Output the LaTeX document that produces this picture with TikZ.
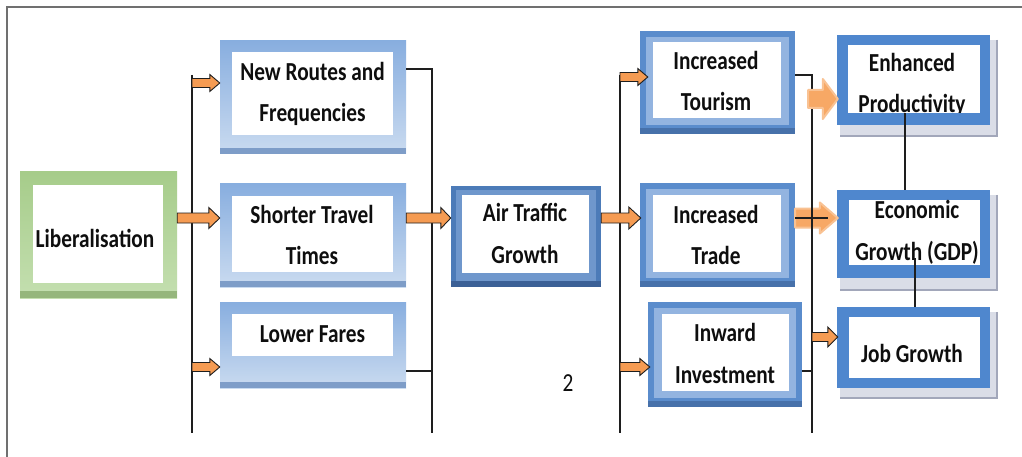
\documentclass[tikz,border=0pt]{standalone}
\usepackage{fontspec}
\setmainfont{Carlito}
\usetikzlibrary{calc,fit}

\definecolor{lbTop}{HTML}{88AEDF}
\definecolor{lbBot}{HTML}{CADBF0}
\definecolor{lbBand}{HTML}{7E9DC8}
\definecolor{airC}{HTML}{4C7BB8}
\definecolor{airIn}{HTML}{6F97CC}
\definecolor{airBand}{HTML}{3B6096}
\definecolor{midC}{HTML}{5A8CCC}
\definecolor{midIn}{HTML}{93B4E0}
\definecolor{midBand}{HTML}{4771AA}
\definecolor{rbC}{HTML}{4F87CE}
\definecolor{shadeC}{HTML}{DADDE7}
\definecolor{shadeEdge}{HTML}{A2A7BA}
\definecolor{grTop}{HTML}{A6CC8A}
\definecolor{grBot}{HTML}{C4DFB0}
\definecolor{grBand}{HTML}{95B67C}
\definecolor{orangeC}{HTML}{F59B52}
\definecolor{orangeSoft}{HTML}{F7A865}
\definecolor{lineC}{HTML}{1E1E1E}
\definecolor{frameC}{HTML}{707070}
\definecolor{textC}{HTML}{0E0E0E}

% two-line captions, slightly stretched vertically
\newcommand\lbl[1]{\scalebox{1}[1.22]{\begin{tabular}{@{}c@{}}#1\end{tabular}}}
% horizontal block arrow: style, tail, tip, half body, half head, head length
\newcommand\blockarrow[6]{%
  \path[#1] ($(#2)+(0,#4)$) -- ($(#3)+(-#6,#4)$) -- ($(#3)+(-#6,#5)$) -- (#3)
    -- ($(#3)+(-#6,-#5)$) -- ($(#3)+(-#6,-#4)$) -- ($(#2)+(0,-#4)$) -- cycle;}

\begin{document}
\begin{tikzpicture}[x=1pt,y=-1pt,
  font=\fontsize{21.3}{34.4}\selectfont\bfseries,
  every node/.style={inner sep=0pt,text=textC},
  boxfit/.style={inner sep=0pt,draw=none},
  lightframe/.style={boxfit,top color=lbTop,bottom color=lbBot},
  airframe/.style={boxfit,fill=airC},
  midframe/.style={boxfit,fill=midC},
  rightframe/.style={boxfit,fill=rbC},
  greenframe/.style={boxfit,top color=grTop,bottom color=grBot},
  wire/.style={draw=lineC,line width=1.4pt},
  smallarrow/.style={fill=orangeC,draw=lineC,line width=0.9pt,line join=miter},
  bigarrow/.style={fill=orangeSoft,draw=orangeSoft!70!white,line width=2pt,line join=round}
]
\useasboundingbox (0,0) rectangle (1022,457);
\fill[white] (0,0) rectangle (1022,457);

% page frame
\draw[frameC,line width=1.8pt] (7,457) -- (7,7) -- (1022,7);

% ---------- left column ----------
\node[greenframe,fit={(20,172) (177,298)}] (lib) {};
\fill[grBand] ([yshift=7pt]lib.south west) rectangle (lib.south east);
\fill[white] (33,185) rectangle (163,283);
\node at (95,239.6) {\lbl{Liberalisation}};

\node[lightframe,fit={(220,41) (406,154)}] (routes) {};
\fill[lbBand] ([yshift=6pt]routes.south west) rectangle (routes.south east);
\fill[white] (232,52) rectangle (393,135);
\node at (312.5,92.6) {\lbl{New Routes and\\Frequencies}};

\node[lightframe,fit={(220,184) (406,287)}] (shorter) {};
\fill[lbBand] ([yshift=6pt]shorter.south west) rectangle (shorter.south east);
\fill[white] (232,196) rectangle (393,272);
\node at (312,235.6) {\lbl{Shorter Travel\\Times}};

\node[lightframe,fit={(220,302) (406,388)}] (fares) {};
\fill[lbBand] ([yshift=6pt]fares.south west) rectangle (fares.south east);
\fill[white] (232,314) rectangle (393,356);
\node at (312.5,334.6) {\lbl{Lower Fares}};

% ---------- centre ----------
\node[airframe,fit={(451,186) (601,287)}] (air) {};
\fill[airIn] (456,190) rectangle (596,281);
\fill[airBand] ([yshift=6pt]air.south west) rectangle (air.south east);
\fill[white] (462,195) rectangle (589,273);
\node at (525,234) {\lbl{Air Traffic\\Growth}};

\node[midframe,fit={(640,31) (795,134)}] (tourism) {};
\fill[midIn] (646,37) rectangle (789,125);
\fill[midBand] ([yshift=6pt]tourism.south west) rectangle (tourism.south east);
\fill[white] (653,42) rectangle (781,118);
\node at (716,81.6) {\lbl{Increased\\Tourism}};

\node[midframe,fit={(640,183) (795,287)}] (trade) {};
\fill[midIn] (646,189) rectangle (789,278);
\fill[midBand] ([yshift=6pt]trade.south west) rectangle (trade.south east);
\fill[white] (653,195) rectangle (781,272);
\node at (716,235.6) {\lbl{Increased\\Trade}};

\node[midframe,fit={(648,302) (802,407)}] (invest) {};
\fill[midIn] (654,308) rectangle (796,398);
\fill[midBand] ([yshift=6pt]invest.south west) rectangle (invest.south east);
\fill[white] (662,314) rectangle (789,391);
\node at (725,354) {\lbl{Inward\\Investment}};

\node[font=\fontsize{21.3}{34.4}\selectfont] (pagenum) at (568,383.6) {\lbl{2}};

% ---------- right column ----------
\fill[shadeC] (840,40) rectangle (997,136);
\draw[shadeEdge,line width=1.4pt] (997,40) -- (997,136) -- (840,136);
\node[rightframe,fit={(837,35) (990,125)}] (prod) {};
\fill[white] (848,45) rectangle (980,113);
\begin{scope}
  \clip (848,45) rectangle (980,113);
  \node at (912,83.6) {\lbl{Enhanced\\Productivity}};
\end{scope}

\fill[shadeC] (840,195) rectangle (997,290);
\draw[shadeEdge,line width=1.4pt] (997,195) -- (997,290) -- (840,290);
\node[rightframe,fit={(837,190) (990,278)}] (growth) {};
\fill[white] (849,200) rectangle (980,265);
\begin{scope}
  \clip (849,200) rectangle (980,265);
  \node at (917,231) {\lbl{Economic\\Growth (GDP)}};
\end{scope}

\fill[shadeC] (840,312) rectangle (997,398);
\draw[shadeEdge,line width=1.4pt] (997,312) -- (997,398) -- (840,398);
\node[rightframe,fit={(837,307) (990,388)}] (job) {};
\fill[white] (849,317) rectangle (980,378);
\node at (912,354.6) {\lbl{Job Growth}};

% ---------- bus coordinates ----------
\coordinate (busA1) at (192,83);
\coordinate (busA2) at (192,218);
\coordinate (busA3) at (192,367);
\coordinate (busAtop) at (192,75);
\coordinate (busAbot) at (192,433);
\coordinate (busB1) at (432,69);
\coordinate (busB3) at (432,371);
\coordinate (busBbot) at (432,433);
\coordinate (busC1) at (620,77);
\coordinate (busC3) at (620,367);
\coordinate (busCtop) at (620,75);
\coordinate (busCbot) at (620,433);
\coordinate (busD1) at (812,75);
\coordinate (busD3) at (812,371);
\coordinate (busDbot) at (812,433);
\coordinate (busDarrow) at (812,337);
\coordinate (prodTail) at (808,99);
\coordinate (tradeTail) at (828,218);

% trade -> economic growth (behind the bus)
\coordinate (tgTip) at ($(growth.west|-busA2)+(1,0)$);
\blockarrow{bigarrow}{trade.east|-busA2}{tgTip}{9.5}{15.5}{18}

% ---------- bus lines ----------
\draw[wire] (busAtop) -- (busAbot);
\draw[wire] (routes.east|-busB1) -- (busB1) -- (busBbot);
\draw[wire] (fares.east|-busB3) -- (busB3);
\draw[wire] (busCtop) -- (busCbot);
\draw[wire] (tourism.east|-busD1) -- (busD1) -- (busDbot);
\draw[wire] (invest.east|-busD3) -- (busD3);
\draw[wire] (trade.east|-busA2) -- (tradeTail);

% right column links
\coordinate (prodLink) at (905,113);
\coordinate (growthLink) at (915,258);
\draw[wire] (prodLink) -- (prodLink|-growth.north);
\draw[wire] (growthLink) -- (growthLink|-job.north);

% ---------- arrows ----------
\coordinate (tipR) at (routes.west|-busA1);
\blockarrow{smallarrow}{busA1}{tipR}{4.5}{8.5}{10}
\coordinate (tipS) at (shorter.west|-busA2);
\blockarrow{smallarrow}{lib.east|-busA2}{tipS}{5}{10.5}{11}
\coordinate (tipF) at (fares.west|-busA3);
\blockarrow{smallarrow}{busA3}{tipF}{4.5}{8.5}{10}
\coordinate (tipA) at (air.west|-busA2);
\blockarrow{smallarrow}{shorter.east|-busA2}{tipA}{5}{10.5}{10}
\coordinate (tipT) at ($(trade.west|-busA2)+(1,0)$);
\blockarrow{smallarrow}{air.east|-busA2}{tipT}{5}{11}{12}
\coordinate (tipTour) at ($(tourism.west|-busC1)+(8,0)$);
\blockarrow{smallarrow}{busC1}{tipTour}{4.5}{8.5}{10}
\coordinate (tipInv) at ($(invest.west|-busC3)+(2,0)$);
\blockarrow{smallarrow}{busC3}{tipInv}{4.5}{8.5}{10}
\coordinate (tipJob) at ($(job.west|-busDarrow)+(1,0)$);
\blockarrow{smallarrow}{busDarrow}{tipJob}{4.5}{10}{10}

% tourism -> enhanced productivity (over the bus)
\coordinate (tipProd) at ($(prod.west|-prodTail)+(1,0)$);
\blockarrow{bigarrow}{prodTail}{tipProd}{9}{20}{15}
\end{tikzpicture}
\end{document}
